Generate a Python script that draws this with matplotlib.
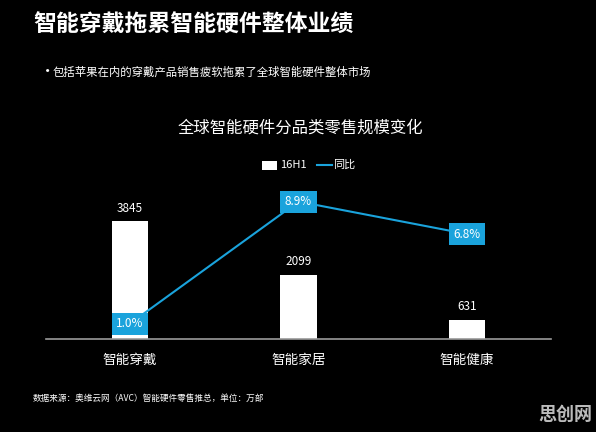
import matplotlib
matplotlib.use("Agg")
import matplotlib.pyplot as plt
from matplotlib.patches import Rectangle
from matplotlib.lines import Line2D

plt.rcParams['font.family'] = ['Noto Sans CJK SC', 'DejaVu Sans']

categories = ['智能穿戴', '智能家居', '智能健康']
sales_16h1 = [3845, 2099, 631]
yoy_pct = [1.0, 8.9, 6.8]
yoy_labels = ['1.0%', '8.9%', '6.8%']

BLUE = '#1aa3dc'
W, H = 596, 432
fig = plt.figure(figsize=(W / 100, H / 100), dpi=100, facecolor='black')

# axes placement in pixels
ax_left, ax_right, ax_bottom, ax_top = 45.75, 551.25, 339, 160
ax = fig.add_axes([ax_left / W, (H - ax_bottom) / H,
                   (ax_right - ax_left) / W, (ax_bottom - ax_top) / H])
ax.set_facecolor('none')
x = list(range(len(categories)))
bars = ax.bar(x, sales_16h1, width=0.214, color='white', zorder=2)
ax.set_xlim(-0.5, 2.5)
ax.set_ylim(0, 179 / 0.0307)
for xi, v in zip(x, sales_16h1):
    ax.text(xi, v + 200, str(v), ha='center', va='bottom', color='white', fontsize=8.5)
for s in ['top', 'left', 'right']:
    ax.spines[s].set_visible(False)
ax.spines['bottom'].set_color('#9a9a9a')
ax.spines['bottom'].set_linewidth(1.2)
ax.set_yticks([])
ax.set_xticks(x)
ax.set_xticklabels(categories, color='white', fontsize=9.8)
ax.tick_params(axis='x', length=0, pad=10)

ax2 = ax.twinx()
ax2.set_ylim(0, 179 / 15.44)
ax2.set_yticks([])
for s in ax2.spines.values():
    s.set_visible(False)
ax2.plot(x, yoy_pct, color=BLUE, lw=1.5, zorder=3)
for xi, v, lab in zip(x, yoy_pct, yoy_labels):
    ax2.text(xi, v, lab, ha='center', va='center', color='white', fontsize=8.5,
             bbox=dict(boxstyle='square,pad=0.38', facecolor=BLUE, edgecolor='none'),
             zorder=4)

# titles
fig.text(33 / W, 1 - 25 / H, '智能穿戴拖累智能硬件整体业绩', color='white',
         fontsize=16.5, fontweight='bold', va='center', ha='left')
fig.text(40 / W, 1 - 72 / H, '•', color='white', fontsize=11, va='center', ha='left')
fig.text(53 / W, 1 - 72 / H, '包括苹果在内的穿戴产品销售疲软拖累了全球智能硬件整体市场',
         color='white', fontsize=8.2, va='center', ha='left')
fig.text(300 / W, 1 - 128 / H, '全球智能硬件分品类零售规模变化', color='white',
         fontsize=11.8, va='center', ha='center')

# legend
fig.patches.append(Rectangle((262 / W, 1 - 170 / H), 15 / W, 9 / H,
                             transform=fig.transFigure, facecolor='white', edgecolor='none'))
fig.text(280 / W, 1 - 165 / H, '16H1', color='white', fontsize=8, va='center', ha='left')
fig.lines.append(Line2D([317 / W, 332 / W], [1 - 165 / H, 1 - 165 / H],
                        transform=fig.transFigure, color=BLUE, lw=1.5))
fig.text(333 / W, 1 - 165 / H, '同比', color='white', fontsize=8, va='center', ha='left')

# footnote
fig.text(33 / W, 1 - 398 / H, '数据来源：奥维云网（AVC）智能硬件零售推总，单位：万部',
         color='white', fontsize=6.2, va='center', ha='left')
fig.text(565 / W, 1 - 414 / H, '思创网', color='#dddddd', fontsize=13,
         fontweight='bold', va='center', ha='center', alpha=0.85)

fig.savefig('out.png', dpi=100, facecolor='black')
